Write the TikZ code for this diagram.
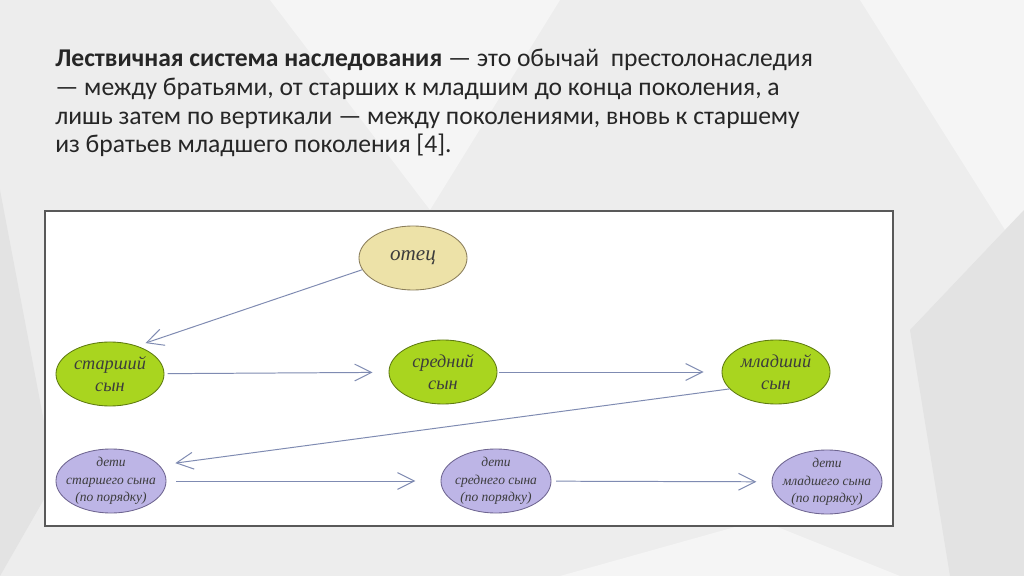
\documentclass[tikz,border=0pt]{standalone}
\usepackage{xcolor}
\usepackage{fontspec}
\setmainfont{Carlito}
\newfontfamily\handfont{Liberation Serif}
\usepackage{tikz}
\usetikzlibrary{positioning, arrows.meta, shapes.geometric}
\definecolor{slidebg}{HTML}{EDEDED}
\definecolor{slidelight}{HTML}{F5F5F5}
\definecolor{slidedark}{HTML}{E3E3E3}
\definecolor{titlegray}{HTML}{262626}
\definecolor{labelgray}{HTML}{3C3C3C}
\definecolor{fatherfill}{HTML}{EDE2A8}
\definecolor{fatherborder}{HTML}{8A7D5A}
\definecolor{sonfill}{HTML}{A9D51F}
\definecolor{sonborder}{HTML}{5E7A10}
\definecolor{kidsfill}{HTML}{BDB5E6}
\definecolor{kidsborder}{HTML}{6E6590}
\definecolor{linkblue}{HTML}{7F8BB2}

\tikzset{
  oval/.style={ellipse, inner sep=0pt, minimum width=2.7cm, minimum height=1.6cm,
               align=center, text=labelgray, line width=0.6pt},
  father/.style={oval, fill=fatherfill, draw=fatherborder,
                 font=\handfont\itshape\fontsize{15}{17}\selectfont},
  son/.style={oval, fill=sonfill, draw=sonborder, inner xsep=-4pt, inner ysep=-2pt,
              font=\handfont\itshape\fontsize{13}{15.5}\selectfont},
  kids/.style={oval, fill=kidsfill, draw=kidsborder, minimum width=2.75cm,
               inner xsep=-7pt, inner ysep=-5pt,
               font=\handfont\itshape\fontsize{9.6}{12.3}\selectfont},
  link/.style={draw=linkblue, line width=0.7pt,
               -{Straight Barb[length=0.42cm, width=0.42cm]}}
}

\begin{document}
\begin{tikzpicture}[x=0.025cm, y=-0.025cm]
  % slide background
  \fill[slidebg] (0,0) rectangle (1024,576);
  \fill[slidelight] (270,0) -- (560,0) -- (430,210) -- cycle;
  \fill[slidelight] (860,0) -- (1024,0) -- (1024,260) -- cycle;
  \fill[slidedark] (0,190) -- (55,480) -- (0,576) -- cycle;
  \fill[slidedark] (910,330) -- (1024,210) -- (1024,576) -- (950,576) -- cycle;
  \fill[slidelight] (560,576) -- (760,520) -- (900,576) -- cycle;

  \node[anchor=north west, align=left, text=titlegray, inner sep=0pt,
        font=\fontsize{18.2}{20.4}\selectfont] (title) at (55,49) {%
    \textbf{Лествичная система наследования} — это обычай\ \ престолонаследия\\
    — между братьями, от старших к младшим до конца поколения, а\\
    лишь затем по вертикали — между поколениями, вновь к старшему\\
    из братьев младшего поколения [4].};

  % scheme
  \draw[fill=white, draw=black!65, line width=1pt] (45,211) rectangle (893,526);

  \node[father] (otec) at (413,258) {отец};
  \node[son] (starshij) at (110,374) {старший\\сын};
  \node[son] (srednij) at (443,372) {средний\\сын};
  \node[son] (mladshij) at (776,372) {младший\\сын};
  \node[kids] (detiSt) at (111,481) {дети\\старшего сына\\(по порядку)};
  \node[kids] (detiSr) at (496,481) {дети\\среднего сына\\(по порядку)};
  \node[kids] (detiMl) at (827,482) {дети\\младшего сына\\(по порядку)};

  \draw[link, shorten >=0.22cm] (otec.193) -- (starshij.46);
  \draw[link, shorten <=0.08cm, shorten >=0.4cm] (starshij) -- (srednij);
  \draw[link, shorten <=0.05cm, shorten >=0.45cm] (srednij) -- (mladshij);
  \draw[link, shorten >=0.4cm] (mladshij.200) -- (detiSt.18);
  \draw[link, shorten <=0.25cm, shorten >=0.63cm] (detiSt) -- (detiSr);
  \draw[link, shorten <=0.12cm, shorten >=0.38cm] (detiSr) -- (detiMl);
\end{tikzpicture}
\end{document}
